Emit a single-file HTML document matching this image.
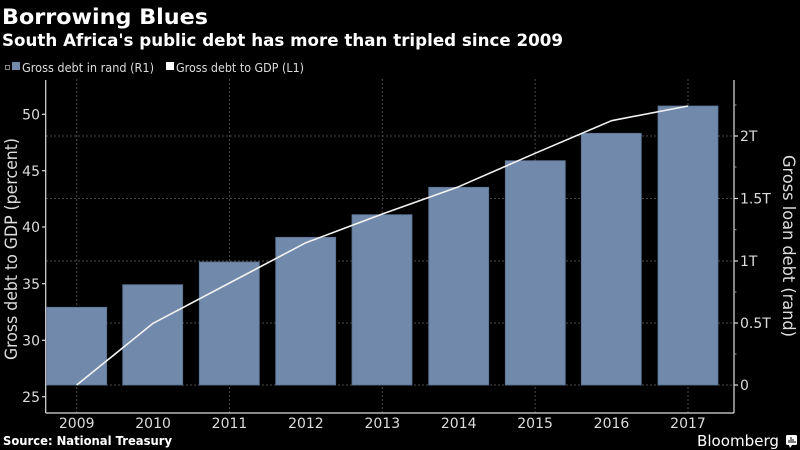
<!DOCTYPE html>
<html>
<head>
<meta charset="utf-8">
<style>
  html, body { margin:0; padding:0; background:#000; }
  svg { display:block; }
  text { font-family: "DejaVu Sans", "Liberation Sans", sans-serif; }
</style>
</head>
<body>
<svg width="800" height="450" viewBox="0 0 800 450" xmlns="http://www.w3.org/2000/svg">
  <rect x="0" y="0" width="800" height="450" fill="#000"/>

  <!-- Titles -->
  <text x="2" y="24" font-size="21" font-weight="bold" fill="#fff" textLength="206" lengthAdjust="spacingAndGlyphs">Borrowing Blues</text>
  <text x="2" y="46" font-size="17" font-weight="bold" fill="#fff" textLength="561" lengthAdjust="spacingAndGlyphs">South Africa's public debt has more than tripled since 2009</text>

  <!-- Legend -->
  <rect x="5.5" y="65.5" width="4" height="4" fill="none" stroke="#888" stroke-width="1"/>
  <rect x="12" y="62" width="8" height="8" fill="#7189ab"/>
  <text x="22" y="72" font-size="12" fill="#ddd" textLength="132" lengthAdjust="spacingAndGlyphs">Gross debt in rand (R1)</text>
  <rect x="166" y="62" width="8" height="8" fill="#fff"/>
  <text x="176" y="72" font-size="12" fill="#ddd" textLength="128" lengthAdjust="spacingAndGlyphs">Gross debt to GDP (L1)</text>

  <!-- Horizontal gridlines (right axis) -->
  <g stroke="#4a4a4a" stroke-width="1" stroke-dasharray="2,2">
    <line x1="46" y1="136" x2="734" y2="136"/>
    <line x1="46" y1="198.5" x2="734" y2="198.5"/>
    <line x1="46" y1="261" x2="734" y2="261"/>
    <line x1="46" y1="323" x2="734" y2="323"/>
    <line x1="46" y1="385" x2="734" y2="385"/>
  </g>
  <!-- Vertical gridlines -->
  <g stroke="#4a4a4a" stroke-width="1" stroke-dasharray="2,2">
    <line x1="76.7" y1="79" x2="76.7" y2="413"/>
    <line x1="229.5" y1="79" x2="229.5" y2="413"/>
    <line x1="382.3" y1="79" x2="382.3" y2="413"/>
    <line x1="535.1" y1="79" x2="535.1" y2="413"/>
    <line x1="688" y1="79" x2="688" y2="413"/>
  </g>

  <!-- Bars -->
  <g fill="#7189ab" stroke="#5c7291" stroke-width="0.8">
    <rect x="46.7" y="307.3" width="60" height="77.7"/>
    <rect x="122.7" y="284.7" width="60" height="100.3"/>
    <rect x="199.3" y="262" width="60" height="123"/>
    <rect x="275.7" y="237.3" width="60" height="147.7"/>
    <rect x="352" y="214.7" width="60" height="170.3"/>
    <rect x="428.7" y="187.3" width="60" height="197.7"/>
    <rect x="505.3" y="160.7" width="60" height="224.3"/>
    <rect x="581.3" y="133.3" width="60" height="251.7"/>
    <rect x="658" y="106" width="60" height="279"/>
  </g>

  <!-- Line -->
  <polyline fill="none" stroke="#f2f2f2" stroke-width="1.6" stroke-linejoin="round"
    points="76.7,385 153.1,323.3 229.5,283 305.9,242.7 382.3,214 458.7,186.7 535.1,153.3 611.5,120.7 688,106"/>

  <!-- Axes -->
  <g stroke="#ddd" stroke-width="1.2">
    <line x1="45.7" y1="80" x2="45.7" y2="413"/>
    <line x1="734" y1="80" x2="734" y2="413"/>
    <line x1="45.7" y1="413" x2="734" y2="413"/>
  </g>

  <!-- Left ticks -->
  <g stroke="#ddd" stroke-width="1.2">
    <line x1="42" y1="114.3" x2="45.7" y2="114.3"/>
    <line x1="42" y1="170.7" x2="45.7" y2="170.7"/>
    <line x1="42" y1="227" x2="45.7" y2="227"/>
    <line x1="42" y1="283.7" x2="45.7" y2="283.7"/>
    <line x1="42" y1="340.3" x2="45.7" y2="340.3"/>
    <line x1="42" y1="396.7" x2="45.7" y2="396.7"/>
  </g>
  <g font-size="14" fill="#ddd" text-anchor="end">
    <text x="40" y="119.5">50</text>
    <text x="40" y="175.9">45</text>
    <text x="40" y="232.2">40</text>
    <text x="40" y="288.9">35</text>
    <text x="40" y="345.5">30</text>
    <text x="40" y="401.9">25</text>
  </g>

  <!-- Right ticks -->
  <g stroke="#ddd" stroke-width="1.2">
    <line x1="734" y1="136" x2="738" y2="136"/>
    <line x1="734" y1="198.5" x2="738" y2="198.5"/>
    <line x1="734" y1="261" x2="738" y2="261"/>
    <line x1="734" y1="323" x2="738" y2="323"/>
    <line x1="734" y1="385" x2="738" y2="385"/>
  </g>
  <g stroke="#999" stroke-width="1">
    <line x1="734" y1="105" x2="736.5" y2="105"/>
    <line x1="734" y1="167" x2="736.5" y2="167"/>
    <line x1="734" y1="229.7" x2="736.5" y2="229.7"/>
    <line x1="734" y1="292" x2="736.5" y2="292"/>
    <line x1="734" y1="354" x2="736.5" y2="354"/>
  </g>
  <g font-size="14" fill="#ddd" text-anchor="start">
    <text x="740" y="141.2">2T</text>
    <text x="740" y="203.7">1.5T</text>
    <text x="740" y="266.2">1T</text>
    <text x="740" y="328.2">0.5T</text>
    <text x="740" y="390.2">0</text>
  </g>

  <!-- X labels -->
  <g font-size="14" fill="#ddd" text-anchor="middle">
    <text x="76.7" y="428">2009</text>
    <text x="153.1" y="428">2010</text>
    <text x="229.5" y="428">2011</text>
    <text x="305.9" y="428">2012</text>
    <text x="382.3" y="428">2013</text>
    <text x="458.7" y="428">2014</text>
    <text x="535.1" y="428">2015</text>
    <text x="611.5" y="428">2016</text>
    <text x="688" y="428">2017</text>
  </g>

  <!-- Axis titles -->
  <text transform="translate(17,249) rotate(-90)" font-size="17" fill="#ddd" text-anchor="middle" textLength="222" lengthAdjust="spacingAndGlyphs">Gross debt to GDP (percent)</text>
  <text transform="translate(783,246) rotate(90)" font-size="17" fill="#ddd" text-anchor="middle" textLength="182" lengthAdjust="spacingAndGlyphs">Gross loan debt (rand)</text>

  <!-- Footer -->
  <text x="3" y="445" font-size="12" font-weight="bold" fill="#fff" textLength="169" lengthAdjust="spacingAndGlyphs">Source: National Treasury</text>
  <text x="779" y="446" font-size="15" fill="#fff" text-anchor="end" textLength="82" lengthAdjust="spacingAndGlyphs">Bloomberg</text>
  <rect x="786" y="435" width="11" height="10" rx="1.5" fill="#fff"/>
  <polygon points="789,445 792,445 790,448" fill="#fff"/>
  <g stroke="#000" stroke-width="1">
    <line x1="789" y1="443" x2="789" y2="440"/>
    <line x1="791" y1="443" x2="791" y2="437"/>
    <line x1="793" y1="443" x2="793" y2="439"/>
    <line x1="795" y1="443" x2="795" y2="441"/>
  </g>
</svg>
</body>
</html>
